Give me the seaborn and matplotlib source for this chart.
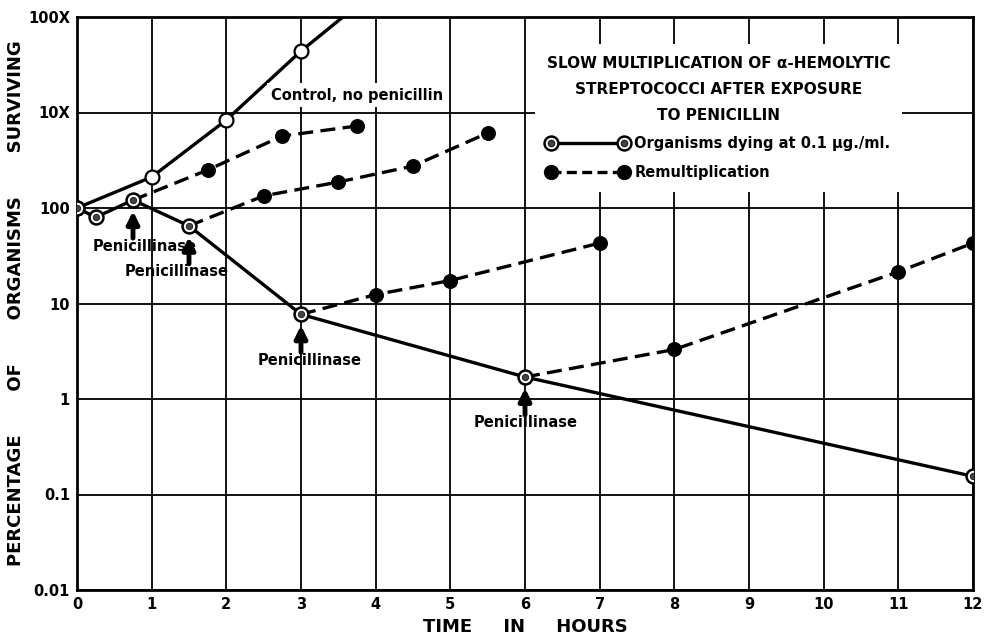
import numpy as np
import pandas as pd
import matplotlib
matplotlib.use("Agg")
import matplotlib.pyplot as plt
from matplotlib.lines import Line2D
from matplotlib.legend_handler import HandlerTuple
from matplotlib.ticker import NullLocator
import seaborn as sns

# === Data ===
hours_control = [0, 1, 2, 3, 4]
pct_control = [100, 211, 835, 4400, 19000]

hours_dying = [0, 0.25, 0.75, 1.5, 3, 6, 12]
pct_dying = [100, 80, 121, 65, 7.7, 1.7, 0.155]

# remultiplication after penicillinase, each branch starts on the dying curve
remult_a_hours = [0.75, 1.75, 2.75, 3.75]
remult_a_pct = [121, 250, 568, 722]
remult_b_hours = [1.5, 2.5, 3.5, 4.5, 5.5]
remult_b_pct = [65, 134, 187, 275, 610]
remult_c_hours = [3, 4, 5, 7]
remult_c_pct = [7.7, 12.4, 17.4, 42.9]
remult_d_hours = [6, 8, 11, 12]
remult_d_pct = [1.7, 3.3, 21.5, 42.9]

penicillinase_hours = [0.75, 1.5, 3, 6]
penicillinase_pct = [121, 65, 7.7, 1.7]
penicillinase_dx = [12, -12, 9, 1]   # label shift (pixels) relative to arrow

y_ticks = [0.01, 0.1, 1, 10, 100, 1000, 10000]
y_tick_labels = ["0.01", "0.1", "1", "10", "100", "10X", "100X"]
x_ticks = list(range(0, 13))

sns.set_theme(style="white")
plt.rcParams["font.family"] = ["DejaVu Sans"]
plt.rcParams["font.weight"] = "bold"
for key in ["text.color", "axes.labelcolor", "xtick.color", "ytick.color"]:
    plt.rcParams[key] = "black"

fig = plt.figure(figsize=(9.84, 6.41), dpi=100)
ax = fig.add_axes([77 / 984, 1 - 590 / 641, (973 - 77) / 984, (590 - 17) / 641])

LW = 2.4

# === Remultiplication (dashed, filled dots) ===
branches = [(remult_a_hours, remult_a_pct), (remult_b_hours, remult_b_pct),
            (remult_c_hours, remult_c_pct), (remult_d_hours, remult_d_pct)]
for hrs, pct in branches:
    df = pd.DataFrame({"hours": hrs, "pct": pct})
    sns.lineplot(data=df, x="hours", y="pct", ax=ax, color="black", lw=LW,
                 linestyle=(0, (4.5, 2.2)), marker="o", markersize=10,
                 markerfacecolor="black", markeredgecolor="black",
                 markevery=slice(1, None), zorder=3)

# === Control (solid, open circles) ===
df_ctrl = pd.DataFrame({"hours": hours_control, "pct": pct_control})
sns.lineplot(data=df_ctrl, x="hours", y="pct", ax=ax, color="black", lw=LW,
             marker="o", markersize=10, markerfacecolor="white",
             markeredgecolor="black", markeredgewidth=1.6, zorder=4)

# === Organisms dying (solid, ringed circles) ===
df_dying = pd.DataFrame({"hours": hours_dying, "pct": pct_dying})
sns.lineplot(data=df_dying, x="hours", y="pct", ax=ax, color="black", lw=LW,
             marker="o", markersize=10, markerfacecolor="white",
             markeredgecolor="black", markeredgewidth=1.8, zorder=5)
sns.lineplot(data=df_dying, x="hours", y="pct", ax=ax, color="black",
             linestyle="none", marker="o", markersize=4.5,
             markerfacecolor="#444444", markeredgecolor="#222222", zorder=6)

# === Penicillinase arrows ===
for hx, hy, dx in zip(penicillinase_hours, penicillinase_pct, penicillinase_dx):
    ax.annotate("", xy=(hx, hy), xycoords="data", xytext=(0, -38),
                textcoords="offset pixels",
                arrowprops=dict(arrowstyle="-|>", lw=3.5, color="black",
                                shrinkA=0, shrinkB=8, mutation_scale=18),
                zorder=7)
    ax.annotate("Penicillinase", xy=(hx, hy), xytext=(dx, -46),
                textcoords="offset pixels", ha="center", va="center",
                fontsize=10.5, fontweight="bold", zorder=7)

ax.text(2.6, 1520, "Control, no penicillin", ha="left", va="center",
        fontsize=10.5, fontweight="bold", zorder=7,
        bbox=dict(facecolor="white", edgecolor="none", pad=3))

# === Axes ===
ax.set_yscale("log")
ax.set_xlim(0, 12)
ax.set_ylim(0.01, 10000)
ax.set_yticks(y_ticks)
ax.set_yticklabels(y_tick_labels)
ax.yaxis.set_minor_locator(NullLocator())
ax.set_xticks(x_ticks)
ax.set_xticklabels([str(t) for t in x_ticks])
ax.tick_params(length=0, labelsize=10.5, pad=5)
for lab in ax.get_xticklabels() + ax.get_yticklabels():
    lab.set_fontweight("bold")
ax.grid(True, color="black", lw=1.3)
ax.set_axisbelow(True)
for sp in ax.spines.values():
    sp.set_color("black")
    sp.set_linewidth(2)

ax.set_xlabel("TIME     IN     HOURS", fontsize=13, fontweight="bold", labelpad=4)
ax.set_ylabel("PERCENTAGE       OF       ORGANISMS       SURVIVING", fontsize=13,
              fontweight="bold")
ax.yaxis.set_label_coords(-0.058, 0.5)

# === Legend with title ===
h_dying = (Line2D([], [], color="black", lw=LW, marker="o", markersize=10,
                  markerfacecolor="white", markeredgecolor="black", markeredgewidth=1.8),
           Line2D([], [], linestyle="none", marker="o", markersize=4.5,
                  markerfacecolor="#444444", markeredgecolor="#222222"))
h_remult = Line2D([], [], color="black", lw=LW, linestyle=(0, (3, 1.6)), marker="o",
                  markersize=10, markerfacecolor="black")
leg = ax.legend([h_dying, h_remult],
                ["Organisms dying at 0.1 μg./ml.", "Remultiplication"],
                handler_map={tuple: HandlerTuple(ndivide=1)},
                title="SLOW MULTIPLICATION OF α-HEMOLYTIC\nSTREPTOCOCCI AFTER EXPOSURE\nTO PENICILLIN",
                title_fontproperties={"size": 11, "weight": "bold"},
                prop={"size": 10.5, "weight": "bold"},
                numpoints=2, handlelength=5.6, handletextpad=0.4,
                loc="upper center", bbox_to_anchor=(0.716, 0.965),
                frameon=True, facecolor="white", edgecolor="none",
                framealpha=1, fancybox=False, labelspacing=0.95,
                alignment="center", borderpad=0.8)
leg.get_title().set_linespacing(1.9)
leg.get_title().set_multialignment("center")
leg.set_zorder(8)

fig.savefig("out.png", dpi=100)
